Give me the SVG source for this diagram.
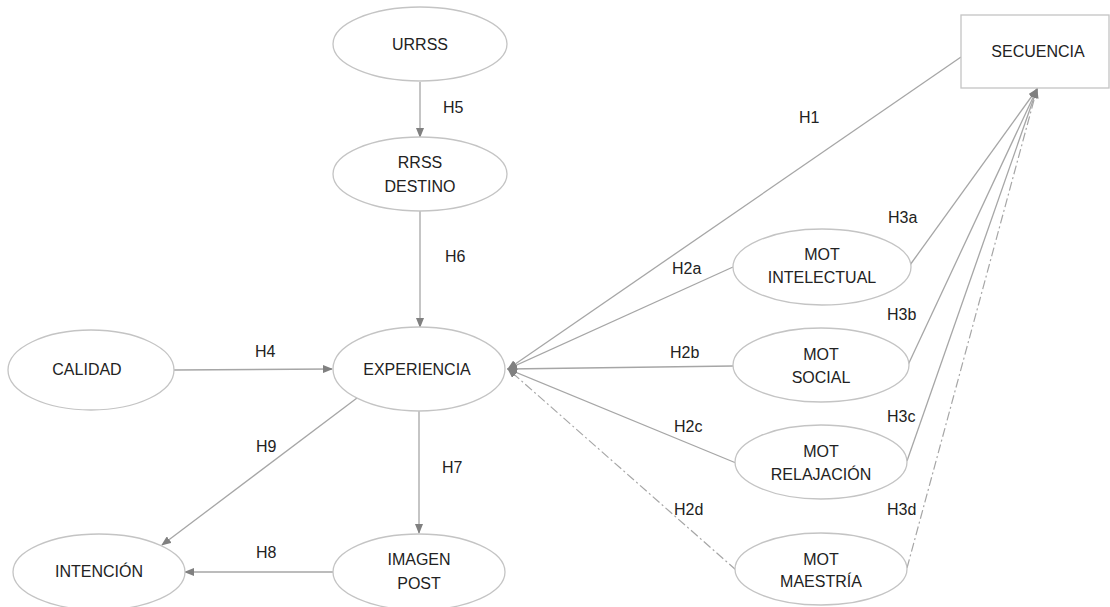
<svg xmlns="http://www.w3.org/2000/svg" width="1110" height="607" viewBox="0 0 1110 607">
<style>
.n{fill:#fff;stroke:#c4c4c4;stroke-width:1.3}
.t{font-family:"Liberation Sans",Arial,sans-serif;font-size:16px;fill:#222;text-anchor:middle}
.l{font-family:"Liberation Sans",Arial,sans-serif;font-size:16px;fill:#222}
.c{fill:none;stroke:#a6a6a6;stroke-width:1.3}
.d{fill:none;stroke:#a6a6a6;stroke-width:1.2;stroke-dasharray:9 3 2 3}
</style>
<defs>
<marker id="a" markerWidth="10" markerHeight="8" refX="9" refY="4" orient="auto" markerUnits="userSpaceOnUse">
<path d="M0,0 L10,4 L0,8 z" fill="#808080"/>
</marker>
</defs>
<g id="connectors">
<line class="c" x1="420" y1="82" x2="420" y2="137" marker-end="url(#a)"/>
<line class="c" x1="420" y1="211" x2="420" y2="327" marker-end="url(#a)"/>
<line class="c" x1="174" y1="370" x2="332" y2="369" marker-end="url(#a)"/>
<line class="c" x1="419" y1="411" x2="419" y2="533" marker-end="url(#a)"/>
<line class="c" x1="357" y1="398" x2="162" y2="545" marker-end="url(#a)"/>
<line class="c" x1="333" y1="572" x2="185" y2="572" marker-end="url(#a)"/>
<line class="c" x1="961" y1="57" x2="508" y2="369" marker-end="url(#a)"/>
<line class="c" x1="733" y1="267" x2="508" y2="369" marker-end="url(#a)"/>
<line class="c" x1="733" y1="366" x2="508" y2="369" marker-end="url(#a)"/>
<line class="c" x1="736" y1="463" x2="508" y2="369" marker-end="url(#a)"/>
<line class="d" x1="736" y1="570" x2="508" y2="369" marker-end="url(#a)"/>
<line class="c" x1="910" y1="265" x2="1037" y2="89" marker-end="url(#a)"/>
<line class="c" x1="908" y1="365" x2="1037" y2="89" marker-end="url(#a)"/>
<line class="c" x1="907" y1="461" x2="1037" y2="89" marker-end="url(#a)"/>
<line class="d" x1="907" y1="568" x2="1037" y2="89" marker-end="url(#a)"/>
<text class="l" x="443" y="113">H5</text>
<text class="l" x="445" y="262">H6</text>
<text class="l" x="255" y="357">H4</text>
<text class="l" x="256" y="452">H9</text>
<text class="l" x="442" y="473">H7</text>
<text class="l" x="256" y="558">H8</text>
<text class="l" x="799" y="123">H1</text>
<text class="l" x="672" y="274">H2a</text>
<text class="l" x="670" y="358">H2b</text>
<text class="l" x="674" y="432">H2c</text>
<text class="l" x="674" y="515">H2d</text>
<text class="l" x="888" y="223">H3a</text>
<text class="l" x="887" y="320">H3b</text>
<text class="l" x="887" y="422">H3c</text>
<text class="l" x="887" y="515">H3d</text>
</g>
<g id="urrss"><ellipse class="n" cx="420" cy="44" rx="87" ry="37"/><text class="t" x="420" y="50">URRSS</text></g>
<g id="rrss-destino"><ellipse class="n" cx="420" cy="174" rx="87" ry="37"/><text class="t" x="420" y="168">RRSS</text><text class="t" x="420" y="192">DESTINO</text></g>
<g id="calidad"><ellipse class="n" cx="91" cy="370" rx="83" ry="40"/><text class="t" x="87" y="375">CALIDAD</text></g>
<g id="experiencia"><ellipse class="n" cx="419" cy="369" rx="86" ry="42"/><text class="t" x="417" y="375">EXPERIENCIA</text></g>
<g id="intencion"><ellipse class="n" cx="99" cy="572" rx="86" ry="38"/><text class="t" x="99" y="577">INTENCIÓN</text></g>
<g id="imagen-post"><ellipse class="n" cx="419" cy="572" rx="86" ry="38"/><text class="t" x="419" y="565">IMAGEN</text><text class="t" x="419" y="589">POST</text></g>
<g id="secuencia"><rect class="n" x="961" y="15" width="148" height="73"/><text class="t" x="1038" y="57">SECUENCIA</text></g>
<g id="mot-intelectual"><ellipse class="n" cx="822" cy="267" rx="89" ry="38"/><text class="t" x="822" y="260">MOT</text><text class="t" x="822" y="283">INTELECTUAL</text></g>
<g id="mot-social"><ellipse class="n" cx="821" cy="365" rx="88" ry="37"/><text class="t" x="821" y="360">MOT</text><text class="t" x="821" y="383">SOCIAL</text></g>
<g id="mot-relajacion"><ellipse class="n" cx="821" cy="462" rx="86" ry="37"/><text class="t" x="821" y="457">MOT</text><text class="t" x="821" y="480">RELAJACIÓN</text></g>
<g id="mot-maestria"><ellipse class="n" cx="821" cy="569" rx="86" ry="36"/><text class="t" x="821" y="565">MOT</text><text class="t" x="821" y="587">MAESTRÍA</text></g>
</svg>
